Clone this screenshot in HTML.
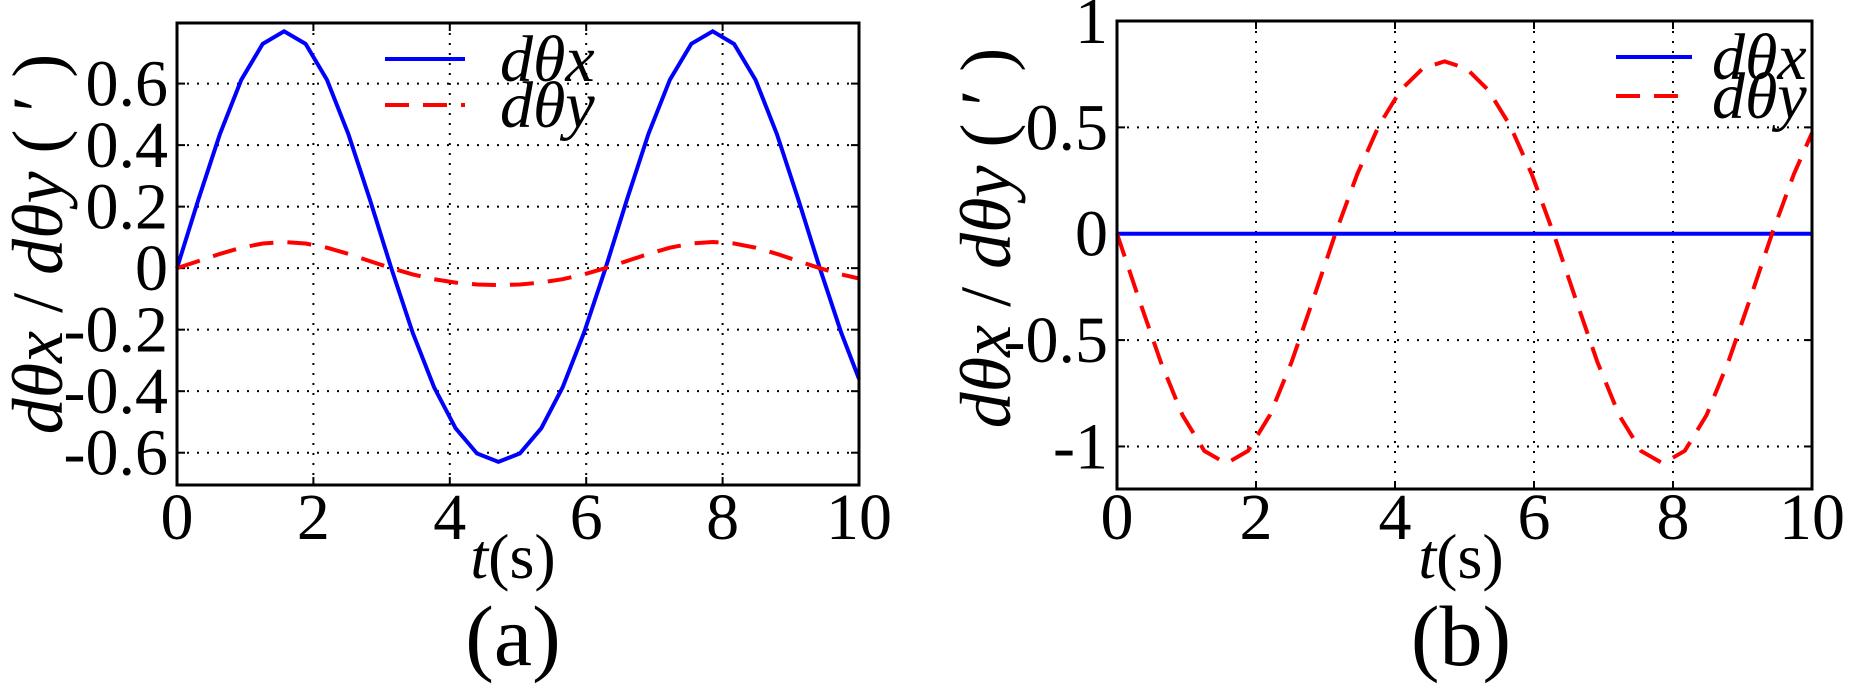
<!DOCTYPE html>
<html><head><meta charset="utf-8"><style>
html,body{margin:0;padding:0;background:#fff;}
svg{display:block;font-family:"Liberation Serif",serif;}
</style></head><body>
<svg id="s" width="1864" height="687" viewBox="0 0 1864 687" xmlns="http://www.w3.org/2000/svg">
</svg>
<script>
var NS="http://www.w3.org/2000/svg",S=document.getElementById('s');
function el(t,a,txt){var e=document.createElementNS(NS,t);for(var k in a)e.setAttribute(k,a[k]);if(txt!==undefined)e.textContent=txt;S.appendChild(e);return e;}
function plot(o){
 var X=function(t){return o.x0+(o.x1-o.x0)*t/10;};
 var Y=function(v){return o.y0+(o.y1-o.y0)*(o.ymax-v)/(o.ymax-o.ymin);};
 for(var t=2;t<10;t+=2){el('line',{x1:X(t),x2:X(t),y1:o.y0,y2:o.y1,stroke:'#000','stroke-width':2,'stroke-dasharray':'2,8'});}
 o.yt.forEach(function(v){ if(Math.abs(Y(v)-o.y0)>2) el('line',{x1:o.x0,x2:o.x1,y1:Y(v),y2:Y(v),stroke:'#000','stroke-width':2,'stroke-dasharray':'2,8'});});
 for(var t=0;t<=10;t+=2){el('line',{x1:X(t),x2:X(t),y1:o.y1,y2:o.y1-8,stroke:'#000','stroke-width':2});el('line',{x1:X(t),x2:X(t),y1:o.y0,y2:o.y0+8,stroke:'#000','stroke-width':2});
  el('text',{x:X(t),y:539,'font-size':66,'text-anchor':'middle'},String(t));}
 o.yt.forEach(function(v,i){el('line',{x1:o.x0,x2:o.x0+8,y1:Y(v),y2:Y(v),stroke:'#000','stroke-width':2});el('line',{x1:o.x1,x2:o.x1-8,y1:Y(v),y2:Y(v),stroke:'#000','stroke-width':2});
  el('text',{x:o.lx,y:Y(v)+22,'font-size':66,'text-anchor':'end'},o.yl[i]);});
 function pts(f){var p=[];for(var t=0;t<=10.001;t+=0.3142){p.push(X(t).toFixed(1)+','+Y(f(t)).toFixed(1));}p.push(X(10)+','+Y(f(10)).toFixed(1));return p.join(' ');}
 el('polyline',{points:pts(o.fb),fill:'none',stroke:'#0000ff','stroke-width':4});
 el('polyline',{points:pts(o.fr),fill:'none',stroke:'#ff0000','stroke-width':4,'stroke-dasharray':'24,14'});
 el('rect',{x:o.x0,y:o.y0,width:o.x1-o.x0,height:o.y1-o.y0,fill:'none',stroke:'#000','stroke-width':3});
 el('line',{x1:o.L[0],x2:o.L[1],y1:o.L[2],y2:o.L[2],stroke:'#0000ff','stroke-width':4});
 el('line',{x1:o.L[0],x2:o.L[1],y1:o.L[3],y2:o.L[3],stroke:'#ff0000','stroke-width':4,'stroke-dasharray':'24,14'});
 el('text',{x:o.L[4],y:o.L[2]+22,'font-size':66,'font-style':'italic'},'dθx');
 el('text',{x:o.L[4],y:o.L[3]+22,'font-size':66,'font-style':'italic'},'dθy');
 var g=el('text',{transform:'translate('+(o.ylx)+','+o.yly+') rotate(-90)','font-size':72,'text-anchor':'middle'});
 g.innerHTML='<tspan font-style="italic">dθx</tspan> / <tspan font-style="italic">dθy</tspan> ( ′ )';
 var tx=el('text',{x:o.tx,y:578,'font-size':64,'text-anchor':'middle'});
 tx.innerHTML='<tspan font-style="italic">t</tspan>(s)';
 el('text',{x:o.tx,y:665,'font-size':86,'text-anchor':'middle'},o.cap);
}
plot({x0:177,x1:859,y0:23,y1:485,ymin:-0.705,ymax:0.797,yt:[0.6,0.4,0.2,0,-0.2,-0.4,-0.6],yl:['0.6','0.4','0.2','0','-0.2','-0.4','-0.6'],lx:168,
 fb:function(t){var s=Math.sin(t);return 0.70*s+0.07*s*s;},fr:function(t){var s=Math.sin(t);return 0.07*s+0.015*s*s;},
 L:[385,465,59,105,500],ylx:62,yly:244,tx:513,cap:'(a)'});
plot({x0:1117,x1:1812,y0:21,y1:489,ymin:-1.2,ymax:1.0,yt:[1,0.5,0,-0.5,-1],yl:['1','0.5','0','-0.5','-1'],lx:1108,
 fb:function(t){return 0;},fr:function(t){var s=Math.sin(t);return -0.945*s-0.135*s*s;},
 L:[1616,1692,57,96,1712],ylx:1010,yly:238,tx:1461,cap:'(b)'});
</script>
</body></html>
